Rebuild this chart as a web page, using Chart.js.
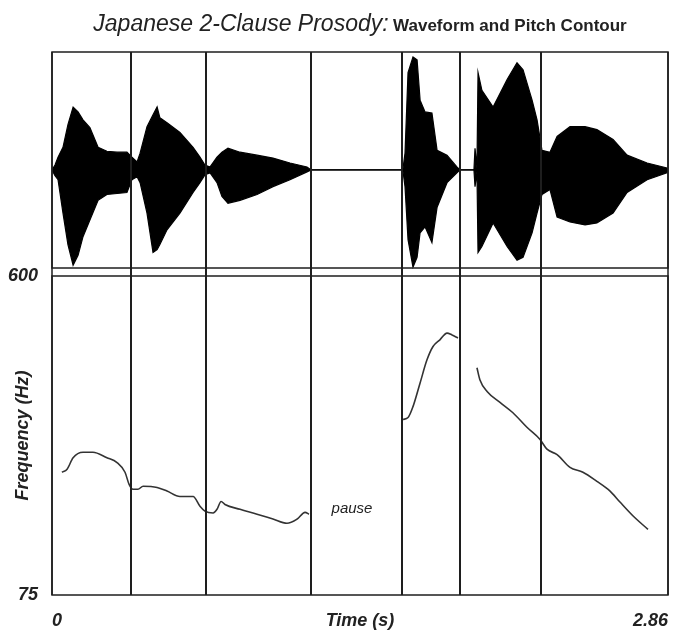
<!DOCTYPE html>
<html>
<head>
<meta charset="utf-8">
<script src="https://cdn.jsdelivr.net/npm/chart.js@4.4.1/dist/chart.umd.min.js"></script>
<style>
  body { margin: 0; background: #fff; }
  #wrap { position: relative; width: 675px; height: 630px; }
  #chart { position: absolute; left: 0; top: 0; }
  #title {
    position: absolute; left: 52px; top: 10px; width: 616px;
    text-align: center; white-space: nowrap; line-height: 26px;
    font-family: "Liberation Sans", Arial, sans-serif; color: #222;
  }
  #title .main { font-style: italic; font-size: 23px; }
  #title .sub { font-weight: bold; font-size: 17px; }
</style>
</head>
<body>
<div id="wrap">
  <canvas id="chart" width="675" height="630"></canvas>
  <div id="title"><span class="main">Japanese 2-Clause Prosody:</span> <span class="sub">Waveform and Pitch Contour</span></div>
</div>
<script>
// time axis (s)
const timeRange = [0, 2.86];
const timeTicks = [0, 2.86];
const timeTickLabels = ['0', '2.86'];

// frequency axis (Hz)
const hzRange = [75, 600];
const hzTicks = [75, 600];
const hzTickLabels = ['75', '600'];

// segment boundaries (s)
const segmentBounds = [0.367, 0.715, 1.203, 1.625, 1.894, 2.270];

// waveform envelope (relative amplitude)
const ampRange = [-1.08, 1.2];
const waveTime = [
  0, 0.014, 0.028, 0.051, 0.074, 0.098, 0.121, 0.144, 0.176, 0.214,
  0.255, 0.302, 0.348, 0.371, 0.395, 0.409, 0.441, 0.469, 0.488, 0.501,
  0.534, 0.594, 0.655, 0.687, 0.710, 0.734, 0.766, 0.789, 0.817, 0.873,
  0.952, 1.026, 1.105, 1.184, 1.203, 1.625, 1.630, 1.639, 1.653, 1.676,
  1.695, 1.709, 1.732, 1.764, 1.788, 1.834, 1.880, 1.894, 1.959, 1.964,
  1.973, 1.978, 1.996, 2.048, 2.113, 2.159, 2.187, 2.229, 2.252, 2.275,
  2.312, 2.345, 2.405, 2.475, 2.530, 2.605, 2.670, 2.763, 2.855, 2.860
];
const waveUpper = [
  0, 0.05, 0.13, 0.23, 0.46, 0.64, 0.59, 0.51, 0.43, 0.23,
  0.19, 0.18, 0.18, 0.13, 0.08, 0.17, 0.44, 0.56, 0.64, 0.53,
  0.48, 0.38, 0.23, 0.13, 0.05, 0.03, 0.13, 0.18, 0.22, 0.18,
  0.15, 0.12, 0.07, 0.03, 0, 0, 0.02, 0.17, 0.99, 1.15,
  1.12, 0.71, 0.59, 0.58, 0.20, 0.15, 0.03, 0, 0, 0.22,
  0.02, 0.99, 0.81, 0.64, 0.92, 1.09, 1.02, 0.71, 0.51, 0.20,
  0.18, 0.34, 0.44, 0.44, 0.41, 0.31, 0.15, 0.07, 0.02, 0
];
const waveLower = [
  0, -0.06, -0.10, -0.44, -0.76, -0.97, -0.87, -0.68, -0.51, -0.31,
  -0.25, -0.24, -0.23, -0.10, -0.07, -0.13, -0.44, -0.84, -0.81, -0.76,
  -0.61, -0.44, -0.23, -0.13, -0.05, -0.03, -0.13, -0.27, -0.34, -0.31,
  -0.25, -0.17, -0.10, -0.02, 0, 0, -0.02, -0.17, -0.71, -0.99,
  -0.89, -0.64, -0.58, -0.74, -0.38, -0.13, -0.03, 0, 0, -0.17,
  -0.02, -0.84, -0.78, -0.54, -0.78, -0.92, -0.89, -0.64, -0.44, -0.25,
  -0.20, -0.48, -0.53, -0.56, -0.54, -0.44, -0.23, -0.10, -0.03, 0
];

// pitch contour, clause 1
const clause1Time = [
  0.046, 0.070, 0.098, 0.144, 0.190, 0.255, 0.302, 0.339, 0.358, 0.376,
  0.399, 0.423, 0.488, 0.534, 0.594, 0.655, 0.687, 0.710, 0.748, 0.766,
  0.785, 0.803, 0.873, 0.952, 1.026, 1.091, 1.138, 1.175, 1.193
];
const clause1Hz = [
  277, 282, 301, 310, 310, 301, 293, 277, 257, 249,
  249, 254, 252, 246, 237, 237, 221, 213, 210, 216,
  229, 224, 216, 208, 200, 193, 200, 211, 208
];

// pitch contour, clause 2 (rise, then fall)
const riseTime = [1.630, 1.653, 1.676, 1.709, 1.741, 1.769, 1.801, 1.834, 1.857, 1.885];
const riseHz = [364, 367, 385, 424, 462, 484, 495, 506, 503, 498];
const fallTime = [
  1.973, 1.987, 2.020, 2.080, 2.140, 2.205, 2.266, 2.298, 2.345, 2.405,
  2.465, 2.530, 2.591, 2.637, 2.698, 2.767
];
const fallHz = [449, 429, 410, 392, 375, 351, 331, 315, 306, 285, 277, 262, 246, 228, 205, 183];

const pauseNote = { text: 'pause', time: 1.393, hz: 216 };

const PANEL_GAP = 8;
const INK = '#1e1e1e';
const axisFont = { family: '"Liberation Sans", Arial, sans-serif', size: 18, style: 'italic', weight: 'bold' };

function pts(xs, ys) {
    return xs.map((x, i) => ({ x: x, y: ys[i] }));
}

function waveSet(ys) {
    return {
        data: pts(waveTime, ys),
        yAxisID: 'amp',
        borderColor: '#000',
        backgroundColor: '#000',
        borderWidth: 1.2,
        pointRadius: 0,
        fill: 'origin',
        tension: 0
    };
}

function pitchSet(xs, ys) {
    return {
        data: pts(xs, ys),
        yAxisID: 'hz',
        borderColor: '#333',
        borderWidth: 1.6,
        pointRadius: 0,
        fill: false,
        cubicInterpolationMode: 'monotone'
    };
}

// panel frames, segment lines and the "pause" note
const framePlugin = {
    id: 'frames',
    afterDatasetsDraw(chart) {
        const { ctx, chartArea } = chart;
        const { left, right } = chartArea;
        const xs = chart.scales.x, amp = chart.scales.amp, hz = chart.scales.hz;
        const top = amp.top, bottom = hz.bottom;
        ctx.save();
        ctx.strokeStyle = INK;
        ctx.lineWidth = 1.5;
        ctx.strokeRect(left, top, right - left, amp.bottom - PANEL_GAP - top);
        ctx.strokeRect(left, hz.top, right - left, bottom - hz.top);
        ctx.beginPath();
        ctx.moveTo(left, top); ctx.lineTo(left, bottom);
        ctx.moveTo(right, top); ctx.lineTo(right, bottom);
        ctx.stroke();

        ctx.lineWidth = 2;
        segmentBounds.forEach(t => {
            const px = Math.round(xs.getPixelForValue(t));
            ctx.beginPath();
            ctx.moveTo(px, top);
            ctx.lineTo(px, bottom);
            ctx.stroke();
        });

        ctx.font = 'italic 15px "Liberation Sans", Arial, sans-serif';
        ctx.fillStyle = '#222';
        ctx.textAlign = 'center';
        ctx.textBaseline = 'middle';
        ctx.fillText(pauseNote.text, xs.getPixelForValue(pauseNote.time), hz.getPixelForValue(pauseNote.hz));
        ctx.restore();
    }
};

new Chart(document.getElementById('chart'), {
    type: 'line',
    data: {
        datasets: [
            waveSet(waveUpper),
            waveSet(waveLower),
            pitchSet(clause1Time, clause1Hz),
            pitchSet(riseTime, riseHz),
            pitchSet(fallTime, fallHz)
        ]
    },
    options: {
        responsive: false,
        animation: false,
        layout: { padding: { top: 52, right: 7, bottom: 0, left: 0 } },
        plugins: {
            legend: { display: false },
            tooltip: { enabled: false }
        },
        scales: {
            x: {
                type: 'linear',
                min: timeRange[0],
                max: timeRange[1],
                grid: { display: false },
                border: { display: false },
                afterBuildTicks: s => { s.ticks = timeTicks.map(v => ({ value: v })); },
                afterFit: s => { s.height = 35; },
                ticks: {
                    align: 'inner',
                    padding: 7,
                    maxRotation: 0,
                    color: '#222',
                    font: axisFont,
                    callback: (v, i) => timeTickLabels[i]
                },
                title: {
                    display: true,
                    text: 'Time (s)',
                    color: '#222',
                    font: axisFont,
                    padding: { top: 0, bottom: -2 }
                }
            },
            amp: {
                type: 'linear',
                position: 'left',
                stack: 'panels',
                stackWeight: 224,
                weight: 1,
                min: ampRange[0],
                max: ampRange[1],
                grid: { display: false },
                border: { display: false },
                ticks: { display: false },
                afterFit: s => { s.width = 52; }
            },
            hz: {
                type: 'linear',
                position: 'left',
                stack: 'panels',
                stackWeight: 319,
                weight: 0,
                min: hzRange[0],
                max: hzRange[1],
                grid: { display: false },
                border: { display: false },
                afterBuildTicks: s => { s.ticks = hzTicks.map(v => ({ value: v })); },
                afterFit: s => { s.width = 52; },
                ticks: {
                    padding: 6,
                    color: '#222',
                    font: axisFont,
                    callback: (v, i) => hzTickLabels[i]
                },
                title: {
                    display: true,
                    text: 'Frequency (Hz)',
                    color: '#222',
                    font: axisFont,
                    padding: { top: 12, bottom: 0 }
                }
            }
        }
    },
    plugins: [framePlugin]
});
</script>
</body>
</html>
